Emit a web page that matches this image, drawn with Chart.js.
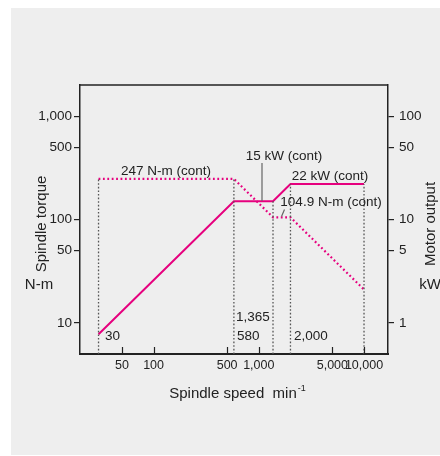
<!DOCTYPE html>
<html>
<head>
<meta charset="utf-8">
<script src="https://cdn.jsdelivr.net/npm/chart.js@4.4.1/dist/chart.umd.min.js"></script>
<style>
  body { margin: 0; background: #fff; }
  #panel { position: absolute; left: 11px; top: 8px; width: 429px; height: 447px; background: #eeeeee; }
  #wrap { position: absolute; left: 0; top: 0; width: 440px; height: 456px; }
</style>
</head>
<body>
<div id="panel"></div>
<div id="wrap"><canvas id="spindle-chart" width="440" height="456"></canvas></div>
<script>
// Spindle output chart
// ------------------------------

// Data
var speeds = [30, 580, 1365, 2000, 10000];        // min-1
var torque = [247, 247, 104.9, 104.9, 21];         // N-m (dotted)
var power = [0.776, 15, 15, 22, 22];               // kW (solid)

var speedTicks = [50, 100, 500, 1000, 5000, 10000];
var torqueTicks = [10, 50, 100, 500, 1000];
var powerTicks = [1, 5, 10, 50, 100];

var PINK = "#e6007e";
var INK = "#222222";
var FONT = "'Liberation Sans', Arial, sans-serif";

function fmt(v) { return Number(v).toLocaleString("en-US"); }

// guide lines: up to torque curve for first two, power curve for the rest
var guides = speeds.map(function (s, i) {
    var onPower = i >= 2;
    return {
        data: [{ x: s, y: onPower ? 0.5 : 5 }, { x: s, y: onPower ? power[i] : torque[i] }],
        yAxisID: onPower ? "y2" : "y",
        borderColor: "#555",
        borderWidth: 1.3,
        borderDash: [1.6, 2],
        pointRadius: 0,
        fill: false
    };
});

var datasets = guides.concat([
    {
        label: "Torque",
        data: speeds.map(function (s, i) { return { x: s, y: torque[i] }; }),
        yAxisID: "y",
        borderColor: PINK,
        borderWidth: 2.2,
        borderDash: [1.8, 2.6],
        pointRadius: 0,
        fill: false
    },
    {
        label: "Power",
        data: speeds.map(function (s, i) { return { x: s, y: power[i] }; }),
        yAxisID: "y2",
        borderColor: PINK,
        borderWidth: 2,
        pointRadius: 0,
        fill: false
    }
]);

function fixTicks(list) {
    return function (scale) { scale.ticks = list.map(function (v) { return { value: v }; }); };
}

// texts, frame and inward x ticks
var decor = {
    id: "decor",
    afterDraw: function (chart) {
        var ctx = chart.ctx, a = chart.chartArea, x = chart.scales.x;
        ctx.save();
        ctx.strokeStyle = INK;
        ctx.lineWidth = 1.5;
        ctx.beginPath();
        ctx.moveTo(a.left, a.top); ctx.lineTo(a.right, a.top);
        ctx.stroke();

        ctx.lineWidth = 1.2;
        speedTicks.forEach(function (v) {
            var px = Math.round(x.getPixelForValue(v)) + 0.5;
            ctx.beginPath();
            ctx.moveTo(px, a.bottom); ctx.lineTo(px, a.bottom - 7);
            ctx.stroke();
        });

        // leader lines
        ctx.strokeStyle = "#666";
        ctx.lineWidth = 1.2;
        ctx.beginPath();
        ctx.moveTo(262, 163); ctx.lineTo(262, 201);
        ctx.moveTo(284.5, 209.5); ctx.lineTo(281.5, 216.5);
        ctx.stroke();

        ctx.fillStyle = INK;
        ctx.textBaseline = "middle";
        ctx.textAlign = "center";
        ctx.font = "13.5px " + FONT;
        ctx.fillText("247 N-m (cont)", 166, 171);
        ctx.fillText("15 kW (cont)", 284, 156);
        ctx.fillText("22 kW (cont)", 330, 176);
        ctx.fillText("104.9 N-m (cont)", 331, 202);

        ctx.textAlign = "left";
        ctx.fillText("30", 105, 336);
        ctx.fillText("1,365", 236, 317);
        ctx.fillText("580", 237, 336);
        ctx.fillText("2,000", 294, 336);

        ctx.textAlign = "center";
        ctx.font = "15px " + FONT;
        ctx.fillText("N-m", 39, 285);
        ctx.fillText("kW", 430, 285);

        var t = "Spindle speed  min";
        var w = ctx.measureText(t).width;
        ctx.textAlign = "left";
        ctx.fillText(t, 237 - w / 2 - 4, 394);
        ctx.font = "9px " + FONT;
        ctx.fillText("-1", 237 + w / 2 - 3, 389);

        ctx.font = "15px " + FONT;
        ctx.textAlign = "center";
        ctx.save();
        ctx.translate(42, 224); ctx.rotate(-Math.PI / 2);
        ctx.fillText("Spindle torque", 0, 0);
        ctx.restore();
        ctx.save();
        ctx.translate(431, 224); ctx.rotate(-Math.PI / 2);
        ctx.fillText("Motor output", 0, 0);
        ctx.restore();
        ctx.restore();
    }
};

var tickFont = { family: FONT, size: 13.5 };

var config = {
    type: "line",
    data: { datasets: datasets },
    options: {
        responsive: false,
        animation: false,
        layout: { padding: { top: 85, left: 0, right: 0, bottom: 0 } },
        plugins: { legend: { display: false }, tooltip: { enabled: false } },
        scales: {
            x: {
                type: "logarithmic",
                min: 20,
                max: 16900,
                afterBuildTicks: fixTicks(speedTicks),
                afterFit: function (s) { s.height = 102; },
                grid: { display: false },
                border: { display: true, color: INK, width: 2 },
                ticks: { color: INK, font: { family: FONT, size: 12.5 }, padding: -4, maxRotation: 0, autoSkip: false,
                    callback: function (v) { return fmt(v); } }
            },
            y: {
                type: "logarithmic",
                position: "left",
                min: 5,
                max: 2000,
                afterBuildTicks: fixTicks(torqueTicks),
                afterFit: function (s) { s.width = 80; },
                grid: { drawOnChartArea: false, drawTicks: true, tickLength: 6, color: INK, lineWidth: 1.2 },
                border: { display: true, color: INK, width: 1.5 },
                ticks: { color: INK, font: tickFont, padding: 2, autoSkip: false,
                    callback: function (v) { return fmt(v); } }
            },
            y2: {
                type: "logarithmic",
                position: "right",
                min: 0.5,
                max: 200,
                afterBuildTicks: fixTicks(powerTicks),
                afterFit: function (s) { s.width = 52; },
                grid: { drawOnChartArea: false, drawTicks: true, tickLength: 6, color: INK, lineWidth: 1.2 },
                border: { display: true, color: INK, width: 1.5 },
                ticks: { color: INK, font: tickFont, padding: 5, autoSkip: false,
                    callback: function (v) { return fmt(v); } }
            }
        }
    },
    plugins: [decor]
};

var spindleChart = new Chart(document.getElementById("spindle-chart"), config);
</script>
</body>
</html>
